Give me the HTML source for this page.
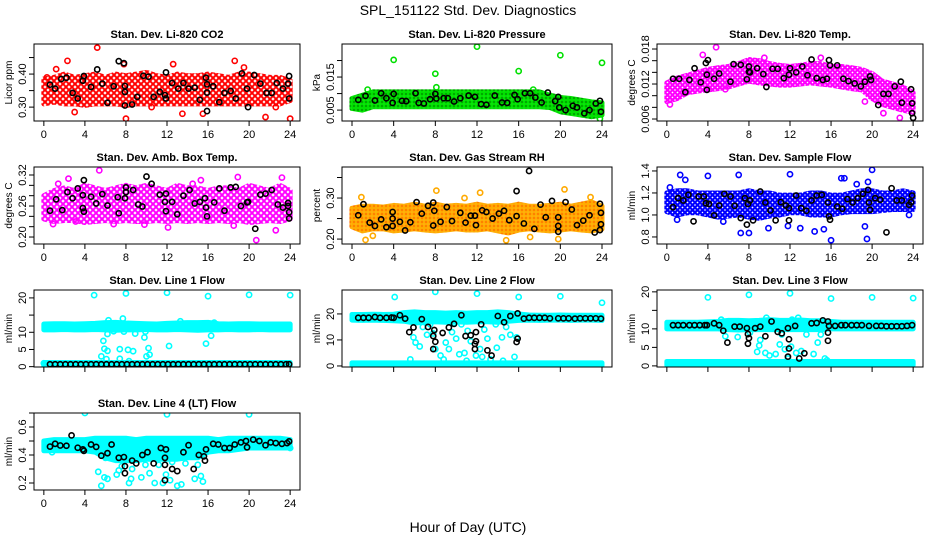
<!DOCTYPE html>
<html><head><meta charset="utf-8">
<style>
html,body{margin:0;padding:0;background:#fff;}
svg{display:block;font-family:"Liberation Sans",sans-serif;}
</style></head>
<body>
<svg id="chart" width="936" height="540" viewBox="0 0 936 540" xmlns="http://www.w3.org/2000/svg">
<defs id="defs"></defs>
<rect width="936" height="540" fill="#fff"/>
<text x="468" y="15" font-size="14" text-anchor="middle">SPL_151122  Std. Dev. Diagnostics</text>
<text x="468" y="532" font-size="14" text-anchor="middle">Hour of Day (UTC)</text>
</svg>
<script>
const bandHours=[0,1,2,3,4,5,6,7,8,9,10,11,12,13,14,15,16,17,18,19,20,21,22,23,24];
const xTicks=[0,4,8,12,16,20,24];

const co2BandLo=[0.31,0.315,0.31,0.31,0.305,0.31,0.31,0.31,0.305,0.31,0.31,0.31,0.31,0.31,0.31,0.31,0.31,0.31,0.31,0.31,0.31,0.31,0.31,0.31,0.32];
const co2BandHi=[0.385,0.39,0.4,0.39,0.395,0.4,0.39,0.4,0.395,0.4,0.405,0.395,0.39,0.4,0.395,0.395,0.4,0.395,0.39,0.4,0.4,0.395,0.39,0.39,0.38];
const co2OutX=[5.2,2.3,18.6,8,21.6,24,13.5,3,15.5,7.8,12.6,0.3,1.2,10.5,19.5,22.6];
const co2OutY=[0.48,0.44,0.44,0.265,0.27,0.265,0.28,0.285,0.28,0.43,0.43,0.39,0.415,0.3,0.42,0.3];
const co2BlackX=[0.6,1.1,1.7,2.2,2.8,3.3,3.9,3.8,4.6,5.2,5.7,6.2,6.8,7.3,7.8,7.9,7.9,7.9,8.6,9.1,9.7,10.2,10.7,11.3,11.8,11.9,11.9,12.5,13.1,13.6,14.1,14.7,15.2,15.8,15.9,15.9,15.9,16.5,17.1,17.6,18.2,18.7,19.3,19.8,19.9,20.5,21.1,21.7,22.2,22.7,23.3,23.8,23.9,23.9];
const co2BlackY=[0.368,0.356,0.385,0.389,0.343,0.326,0.394,0.38,0.361,0.414,0.371,0.313,0.363,0.439,0.433,0.364,0.346,0.305,0.308,0.331,0.395,0.392,0.331,0.346,0.336,0.326,0.405,0.373,0.356,0.373,0.356,0.359,0.322,0.389,0.369,0.344,0.288,0.363,0.315,0.343,0.349,0.326,0.402,0.356,0.30,0.397,0.371,0.343,0.343,0.373,0.356,0.371,0.394,0.326];

const presBandLo=[0.0055,0.005,0.006,0.006,0.006,0.006,0.006,0.006,0.006,0.006,0.006,0.006,0.006,0.006,0.006,0.006,0.006,0.006,0.006,0.0058,0.0045,0.004,0.0035,0.003,0.0035];
const presBandHi=[0.0085,0.0095,0.0105,0.0105,0.0105,0.0105,0.0105,0.0105,0.0105,0.0105,0.0105,0.0105,0.0105,0.0105,0.0105,0.0105,0.0105,0.0105,0.0105,0.0095,0.0088,0.0085,0.008,0.0075,0.0072];
const presOutX=[4,8,8.1,12,16,20,24,23.8,1.5,17.4];
const presOutY=[0.0202,0.016,0.0119,0.0242,0.0168,0.0216,0.0193,0.0024,0.0112,0.0112];
const presBlackX=[0.6,1.3,2.2,2.8,3.3,3.9,4.0,4.8,5.2,6.1,6.4,6.9,7.5,8.0,8.1,8.8,9.2,9.8,10.4,11.2,11.8,12.4,12.9,13.7,14.4,14.9,15.6,15.9,16.6,17.1,17.6,18.2,18.8,19.5,19.8,19.9,20.5,21.2,21.6,22.3,22.8,23.4,23.8,23.9];
const presBlackY=[0.0081,0.0093,0.0079,0.0101,0.0086,0.0072,0.0099,0.0078,0.0077,0.0101,0.0072,0.007,0.0083,0.0099,0.0085,0.0086,0.0086,0.0076,0.0086,0.0094,0.009,0.0068,0.0066,0.0094,0.0073,0.0072,0.0096,0.0083,0.0101,0.0101,0.0088,0.0073,0.0103,0.0077,0.009,0.0058,0.005,0.0063,0.0058,0.004,0.005,0.007,0.0078,0.0045];

const tempBandLo=[0.009,0.0095,0.0105,0.0108,0.011,0.0112,0.0115,0.012,0.0125,0.0122,0.012,0.0118,0.0118,0.012,0.0122,0.012,0.0118,0.0115,0.0112,0.011,0.0095,0.0085,0.008,0.0075,0.0072];
const tempBandHi=[0.0122,0.013,0.0135,0.014,0.0145,0.0148,0.015,0.0155,0.0162,0.016,0.0155,0.0152,0.015,0.0152,0.0155,0.0155,0.015,0.015,0.0148,0.0145,0.0138,0.0125,0.012,0.0115,0.0105];
const tempOutX=[4.8,5.7,19.3,21.1,22.7,3.5,0.3,9.5,15];
const tempOutY=[0.0183,0.0111,0.009,0.007,0.0062,0.017,0.0085,0.0165,0.0165];
const tempBlackX=[0.6,1.2,1.8,2.2,2.7,3.3,3.8,3.9,3.9,4.0,4.6,5.1,6.2,6.5,7.2,7.8,8,8,8.1,8.8,9.4,9.7,10.3,10.8,11.4,11.9,12,12.6,13.2,13.7,14.1,14.6,15.2,15.6,15.8,15.9,16.6,17.2,17.7,18.3,18.9,19.3,19.8,19.9,20.6,21.1,21.6,22.2,22.8,22.9,23.8,23.9,23.9,24];
const tempBlackY=[0.0129,0.0129,0.0106,0.0127,0.0147,0.0123,0.0156,0.011,0.0136,0.0161,0.0129,0.0138,0.0124,0.0154,0.0153,0.0128,0.015,0.0141,0.014,0.0147,0.0137,0.0115,0.0146,0.0146,0.013,0.0136,0.0147,0.014,0.015,0.0135,0.0162,0.013,0.0127,0.0129,0.0161,0.0152,0.0152,0.0129,0.0125,0.0121,0.0116,0.0124,0.0133,0.0127,0.0084,0.0103,0.0103,0.0116,0.0124,0.0088,0.0111,0.0087,0.007,0.0062];

const boxBandLo=[0.235,0.23,0.232,0.232,0.228,0.23,0.232,0.23,0.232,0.23,0.23,0.232,0.23,0.232,0.23,0.232,0.23,0.232,0.23,0.232,0.228,0.23,0.232,0.23,0.235];
const boxBandHi=[0.28,0.29,0.295,0.29,0.3,0.295,0.29,0.295,0.3,0.295,0.3,0.295,0.29,0.3,0.295,0.295,0.29,0.295,0.295,0.29,0.3,0.295,0.29,0.3,0.29];
const boxOutX=[5.4,12.1,18.9,20.7,9.8,23.2,1.4,2.4,22.6,3.1,14.5,15.3,0.9,6.8,18.5];
const boxOutY=[0.329,0.2185,0.316,0.194,0.224,0.315,0.303,0.313,0.213,0.23,0.303,0.31,0.225,0.225,0.222];
const boxBlackX=[0.6,1.2,1.8,2.3,2.8,3.3,3.8,3.9,3.9,3.8,4.6,5.1,5.7,6.2,7.2,7.3,7.9,8,8,8.7,9.2,9.6,10.0,10.5,11.3,11.8,11.9,11.9,12.5,13.0,13.6,14.2,14.7,15.2,15.7,15.8,15.9,16.6,17.1,17.6,18.2,18.7,19.2,19.8,19.9,20.6,21.1,21.6,22.2,22.8,23.3,23.8,23.9,23.9,23.8];
const boxBlackY=[0.251,0.273,0.252,0.287,0.275,0.294,0.256,0.31,0.249,0.281,0.278,0.265,0.283,0.261,0.277,0.246,0.275,0.287,0.296,0.291,0.263,0.259,0.317,0.303,0.282,0.268,0.284,0.25,0.268,0.244,0.28,0.291,0.265,0.268,0.275,0.257,0.24,0.267,0.294,0.251,0.296,0.297,0.26,0.267,0.268,0.216,0.282,0.284,0.291,0.263,0.257,0.266,0.236,0.248,0.26];

const rhBandLo=[0.23,0.22,0.225,0.225,0.22,0.222,0.225,0.222,0.22,0.222,0.225,0.222,0.222,0.225,0.22,0.215,0.222,0.225,0.222,0.22,0.222,0.225,0.222,0.22,0.225];
const rhBandHi=[0.275,0.28,0.28,0.278,0.282,0.28,0.285,0.28,0.285,0.28,0.282,0.28,0.285,0.28,0.282,0.28,0.285,0.28,0.28,0.282,0.285,0.28,0.285,0.29,0.28];
const rhOutX=[8.1,12.3,20.4,0.9,1.3,14.8,2,17.1,22.9,10.8,19.8];
const rhOutY=[0.318,0.313,0.321,0.302,0.198,0.197,0.208,0.205,0.302,0.3,0.2];
const rhBlackX=[0.6,1.1,1.7,2.2,2.8,3.3,3.9,3.9,3.9,4.6,5.1,5.6,6.2,6.7,7.3,7.8,7.9,7.8,8.5,9.1,9.6,10.4,10.9,11.4,11.8,11.9,12.5,12.9,13.5,14.1,14.6,15.1,15.8,15.8,16.5,17.0,17.5,18.1,18.6,19.2,19.8,19.8,19.8,20.5,21.1,21.6,22.2,22.8,23.3,23.8,23.8,23.9,23.9];
const rhBlackY=[0.258,0.285,0.24,0.232,0.248,0.229,0.266,0.25,0.232,0.242,0.221,0.241,0.29,0.262,0.281,0.289,0.269,0.233,0.242,0.278,0.244,0.264,0.24,0.257,0.257,0.234,0.27,0.266,0.25,0.262,0.269,0.246,0.317,0.256,0.238,0.366,0.225,0.284,0.253,0.293,0.253,0.232,0.218,0.29,0.272,0.234,0.245,0.258,0.216,0.222,0.286,0.264,0.236];

const flowBandLo=[1.03,1.0,1.02,1.02,1.0,0.98,0.99,1.0,0.98,0.97,0.99,1.0,1.02,1.02,1.0,1.0,1.0,1.02,1.03,1.03,1.03,1.04,1.05,1.05,1.05];
const flowBandHi=[1.2,1.22,1.22,1.2,1.2,1.2,1.2,1.2,1.22,1.2,1.2,1.18,1.18,1.18,1.2,1.2,1.18,1.18,1.2,1.22,1.22,1.2,1.2,1.22,1.2];
const flowOutX=[1.3,1.8,4,7,12,16,19.5,20,19.6,19.3,7.2,8,9.9,13,14.4,15.3,1,17,17.3,18.5,0.3,5.5,11.8,23.6];
const flowOutY=[1.364,1.319,1.355,1.364,1.37,0.77,0.782,1.41,1.3,0.896,0.836,0.836,0.88,0.88,0.85,0.87,0.957,1.334,1.334,1.28,1.25,0.94,0.9,1.0];
const flowBlackX=[0.6,1.1,1.6,2.1,2.6,3.1,3.6,3.8,4.1,4.6,5.1,5.6,6.2,6.6,7.2,7.6,7.8,7.9,8.1,8.4,9.1,9.6,10.1,10.6,11.1,11.6,11.9,11.9,12.6,13.1,13.6,14.1,14.6,15.1,15.7,15.8,15.9,16.6,17.1,17.6,18.1,18.6,19.1,19.6,19.7,19.8,20.3,20.8,21.4,21.9,22.4,22.9,23.6,23.9,23.8];
const flowBlackY=[1.071,1.153,1.132,1.183,0.942,1.168,1.168,1.107,1.1,0.996,1.086,1.192,1.168,1.083,0.972,1.153,0.912,1.1,1.132,0.951,1.213,1.113,1.041,0.951,1.116,1.086,1.062,0.951,1.177,1.062,1.038,1.132,1.177,1.183,1.113,0.987,0.957,1.077,1.056,1.144,1.113,1.153,1.192,1.228,1.113,1.047,1.153,1.138,0.842,1.243,1.132,1.132,1.092,1.177,1.116];

const lowBandLo=[0.2,0.2,0.2,0.2,0.2,0.2,0.2,0.2,0.2,0.2,0.2,0.2,0.2,0.2,0.2,0.2,0.2,0.2,0.2,0.2,0.2,0.2,0.2,0.2,0.2];
const lowBandHi=[1.2,1.2,1.2,1.2,1.2,1.2,1.2,1.2,1.2,1.2,1.2,1.2,1.2,1.2,1.2,1.2,1.2,1.2,1.2,1.2,1.2,1.2,1.2,1.2,1.2];

const line1BandLo=[10.7,10.7,10.8,10.7,10.7,10.8,10.7,10.6,10.7,10.7,10.8,10.7,10.7,10.8,10.7,10.6,10.7,10.7,10.8,10.7,10.7,10.8,10.7,10.7,10.7];
const line1BandHi=[12.4,12.5,12.5,12.4,12.5,12.6,12.8,12.9,12.7,12.6,12.5,12.4,12.6,12.7,12.8,12.8,12.9,12.5,12.4,12.5,12.5,12.4,12.4,12.4,12.4];
const line1OutX=[4.9,8.0,12.0,16.0,20.0,24.0,5.8,5.9,6.2,5.6,6.1,7.4,7.4,8.2,8.7,8.3,10.0,10.2,10.3,9.8,12.2,15.8,16.3,6.2,6.8,7.8,8.9,9.9,7.7,6.3,16.6,13.3,0];
const line1OutY=[20.8,21.3,21.5,20.5,20.9,20.8,7.5,5.2,4.6,3,2.2,2.3,5.1,4.9,4.5,1.6,3,5.4,3.5,8.5,6,6.7,9,9.5,10.3,10.2,9.6,10.2,14.0,13.5,12.8,13.2,1];
const line1BlackX=[0.6,1.1,1.6,2.1,2.6,3.1,3.6,4.1,4.6,5.1,5.6,6.1,6.6,7.1,7.6,8.1,8.6,9.1,9.6,10.1,10.6,11.1,11.6,12.1,12.6,13.1,13.6,14.1,14.6,15.1,15.6,16.1,16.6,17.1,17.6,18.1,18.6,19.1,19.6,20.1,20.6,21.1,21.6,22.1,22.6,23.1,23.6,23.9];
const line1BlackY=[0.7,0.7,0.7,0.7,0.7,0.7,0.7,0.7,0.7,0.7,0.7,0.7,0.7,0.7,0.7,0.7,0.7,0.7,0.7,0.7,0.7,0.7,0.7,0.7,0.7,0.7,0.7,0.7,0.7,0.7,0.7,0.7,0.7,0.7,0.7,0.7,0.7,0.7,0.7,0.7,0.7,0.7,0.7,0.7,0.7,0.7,0.7,0.7];

const line2BandLo=[17.6,17.5,17.6,17.5,17.4,17.2,16.5,16.8,17,16.8,17,16.8,17,17,16.8,17.2,17.5,17.6,17.5,17.6,17.6,17.5,17.6,17.6,17.5];
const line2BandHi=[19.8,19.8,19.9,19.8,19.9,20.5,20.8,20.5,20.5,20.3,20.5,20.3,20.5,20.5,20.8,20.5,20,19.6,19.5,19.5,19.6,19.5,19.5,19.5,19.5];
const line2OutX=[4.1,8.0,12.0,16.0,20.0,24,5.6,5.9,6.1,6.5,7.2,7.8,8.0,8.5,9,9.3,9.6,10,10.3,10.8,11.1,11.4,11.9,12.3,12.7,13,13.3,13.9,14.4,14.8,15.2,15.6,15.8,7.5,10.5,13.8,6.8,9.8,12.5,8.8,11,14.5];
const line2OutY=[26.5,28.5,27.8,26.5,26.8,24.3,2.5,11,9,7.5,12,12.5,6.5,4,9,6.5,13,10.5,4.5,5,13.5,9.5,4,6.5,14,10.5,2.5,7,11,15,12,3.5,11,16,16,16,15,16.5,3.5,2.5,2,2];
const line2BlackX=[0.6,1.1,1.6,2.2,2.7,3.3,3.8,4,4.6,5.1,5.5,5.9,6.7,7.3,7.8,7.9,8.0,7.8,8.7,9.3,9.8,10.5,10.9,11.4,11.9,11.9,11.8,11.8,12.4,13.0,13.4,14,14.6,15.2,15.8,15.9,15.9,16.5,17,17.5,18,18.5,19,19.8,20.3,20.8,21.4,21.9,22.4,22.9,23.4,23.9];
const line2BlackY=[18.5,18.5,18.5,18.8,18.5,18.5,18.6,18.5,19.5,18.2,13,14.8,18,15,11.5,13.8,9.3,6.5,12.7,14.8,16.2,19.5,11.5,11.8,13,9.5,8.5,6.5,16,6,4,19.2,16.8,19.2,9.2,10.5,20.2,18.2,18.5,18.5,18.5,18.5,18.3,18.3,18.3,18.3,18.2,18.3,18.3,18.3,18.3,18.2];

const line3BandLo=[10,10,10,10,10,10,9.8,9.7,9.8,9.8,9.8,9.8,9.8,9.8,9.8,9.8,10,10,10,10,10,10,10,10,10];
const line3BandHi=[11.8,11.8,11.8,11.8,11.9,12,12.3,12.3,12.2,12.3,12.5,12.3,12.3,12.4,12.2,12.2,12,11.8,11.8,11.8,11.8,11.8,11.8,11.8,11.8];
const line3OutX=[4,8,12,16,20,24,5.5,5.7,6.9,7.6,8.1,8.8,9.0,9.1,9.6,10,10.6,11,11.2,11.5,11.8,12.1,12.6,12.8,13.1,13.6,14.3,14.7,15,15.4,5.3,9.7,12.2,15.6];
const line3OutY=[18.5,19.2,19.6,18.2,18.5,18.3,10.5,8,7.8,11,9,3.8,5.5,7,3.5,2.8,3.2,5.8,8.5,4.5,2,5.2,3.5,13,4,8.5,3.2,6.3,8.5,2,12.5,13,12.5,1.5];
const line3BlackX=[0.6,1.1,1.6,2.2,2.7,3.2,3.7,3.9,4.6,5.1,5.5,5.9,6.6,7.1,7.8,7.9,8.0,7.9,8.6,9.1,9.6,10.2,10.8,11.2,11.9,11.9,11.8,11.8,12.5,12.9,13.4,14.1,14.6,15.2,15.7,15.7,15.7,15.8,16.4,17,17.4,18,18.5,19,19.7,20.4,20.9,21.4,21.9,22.4,22.9,23.4,23.9];
const line3BlackY=[11,11,11,11,11,11,11,11,11.5,11,9.5,6.3,10.6,10.6,10.2,8.6,7.5,6,10.2,10.6,8,12,9.2,8.8,7.2,4.7,2.5,10.2,10.8,2,3.4,11.5,11.6,12.3,12,9,6.8,10.8,10.8,11,11,11,11,11,10.8,10.8,10.8,10.7,10.7,10.7,10.7,10.8,11];

const line4BandLo=[0.43,0.43,0.43,0.43,0.43,0.42,0.38,0.36,0.36,0.36,0.37,0.37,0.37,0.37,0.38,0.38,0.42,0.43,0.43,0.44,0.45,0.45,0.45,0.45,0.45];
const line4BandHi=[0.5,0.51,0.51,0.51,0.51,0.52,0.52,0.52,0.52,0.51,0.52,0.52,0.52,0.52,0.52,0.52,0.52,0.51,0.52,0.52,0.52,0.52,0.52,0.52,0.51];
const line4OutX=[4,12,20,24,5.6,5.3,5.9,6.2,7.1,7.3,7.6,8.3,8.5,8.6,9.5,10.3,10.8,11.6,11.9,12.3,13.0,13.4,13.8,14.7,15.3,15.5,11.2,9.9,6.0,7.0,15.0,12.5,0.8];
const line4OutY=[0.7,0.69,0.69,0.45,0.18,0.28,0.24,0.23,0.26,0.29,0.32,0.2,0.23,0.3,0.24,0.27,0.2,0.2,0.26,0.22,0.18,0.19,0.34,0.23,0.25,0.21,0.33,0.33,0.38,0.39,0.33,0.35,0.42];
const line4BlackX=[0.6,1.1,1.6,2.2,2.7,3.3,3.8,3.9,4.6,5.1,5.6,6.2,6.6,7.3,7.8,7.9,7.9,8.6,9.0,9.6,10.1,10.7,11.4,11.8,11.8,11.8,11.9,12.5,13,13.6,14.1,14.6,15.1,15.6,15.7,15.8,16.5,17.0,17.6,18.1,18.6,19.2,19.7,19.8,20.4,21.0,21.6,22.1,22.6,23.2,23.7,23.9];
const line4BlackY=[0.46,0.48,0.468,0.466,0.54,0.452,0.44,0.43,0.475,0.458,0.395,0.413,0.475,0.38,0.385,0.32,0.27,0.36,0.34,0.4,0.42,0.34,0.45,0.38,0.33,0.22,0.44,0.3,0.285,0.42,0.47,0.3,0.4,0.39,0.36,0.44,0.48,0.475,0.45,0.45,0.475,0.49,0.5,0.455,0.51,0.5,0.47,0.49,0.485,0.48,0.485,0.497];

const svg=document.getElementById('chart');
const defs=document.getElementById('defs');
const NS='http://www.w3.org/2000/svg';
function mk(tag,attrs,parent){const e=document.createElementNS(NS,tag);for(const k in attrs)e.setAttribute(k,attrs[k]);(parent||svg).appendChild(e);return e;}

// texture patterns (styling only)
function pattern(id,color,dot,size,r,sw){
  const p=mk('pattern',{id:id,patternUnits:'userSpaceOnUse',width:size,height:size},defs);
  mk('circle',{cx:size/2,cy:size/2,r:r,fill:'none',stroke:color,'stroke-width':sw},p);
  mk('circle',{cx:0,cy:0,r:r,fill:'none',stroke:color,'stroke-width':sw},p);
  mk('circle',{cx:size,cy:0,r:r,fill:'none',stroke:color,'stroke-width':sw},p);
  mk('circle',{cx:0,cy:size,r:r,fill:'none',stroke:color,'stroke-width':sw},p);
  mk('circle',{cx:size,cy:size,r:r,fill:'none',stroke:color,'stroke-width':sw},p);
  if(dot) mk('rect',{x:size/2-0.5,y:size/2-0.5,width:1,height:1,fill:dot},p);
  return 'url(#'+id+')';
}

const colL=[34,342,657], colW=[266,270,266], rowT=[44,167,290,413], PH=77;

const panels=[
 {name:'co2',title:'Stan. Dev. Li-820 CO2',ylab:'Licor ppm',col:0,row:0,ymin:0.258,ymax:0.491,yt:[0.30,0.35,0.40,0.45],yl:['0.30','','0.40',''],color:'#ff0000',tex:[null,6,2.4,1.5],lo:co2BandLo,hi:co2BandHi,ox:co2OutX,oy:co2OutY,bx:co2BlackX,by:co2BlackY,xl:true},
 {name:'pressure',title:'Stan. Dev. Li-820 Pressure',ylab:'kPa',col:1,row:0,ymin:0.0017,ymax:0.025,yt:[0.005,0.010,0.015,0.020],yl:['0.005','','0.015',''],color:'#00e000',tex:['#000',4,1.8,1.6],lo:presBandLo,hi:presBandHi,ox:presOutX,oy:presOutY,bx:presBlackX,by:presBlackY,xl:true},
 {name:'temp',title:'Stan. Dev. Li-820 Temp.',ylab:'degrees C',col:2,row:0,ymin:0.00566,ymax:0.01886,yt:[0.006,0.008,0.010,0.012,0.014,0.016,0.018],yl:['0.006','','','0.012','','','0.018'],color:'#ff00ff',tex:[null,5,2.1,1.6],lo:tempBandLo,hi:tempBandHi,ox:tempOutX,oy:tempOutY,bx:tempBlackX,by:tempBlackY,xl:true},
 {name:'box-temp',title:'Stan. Dev. Amb. Box Temp.',ylab:'degrees C',col:0,row:1,ymin:0.1865,ymax:0.3355,yt:[0.20,0.22,0.24,0.26,0.28,0.30,0.32],yl:['0.20','','','0.26','','','0.32'],color:'#ff00ff',tex:[null,6,2.4,1.5],lo:boxBandLo,hi:boxBandHi,ox:boxOutX,oy:boxOutY,bx:boxBlackX,by:boxBlackY,xl:true},
 {name:'rh',title:'Stan. Dev. Gas Stream RH',ylab:'percent',col:1,row:1,ymin:0.188,ymax:0.3756,yt:[0.20,0.25,0.30,0.35],yl:['0.20','','0.30',''],color:'#ffaa00',tex:['#ff0000',4,1.8,1.6],lo:rhBandLo,hi:rhBandHi,ox:rhOutX,oy:rhOutY,bx:rhBlackX,by:rhBlackY,xl:true},
 {name:'sample-flow',title:'Stan. Dev. Sample Flow',ylab:'ml/min',col:2,row:1,ymin:0.736,ymax:1.436,yt:[0.8,1.0,1.2,1.4],yl:['0.8','1.0','1.2','1.4'],color:'#0000ff',tex:[null,5,2.1,1.6],lo:flowBandLo,hi:flowBandHi,ox:flowOutX,oy:flowOutY,bx:flowBlackX,by:flowBlackY,xl:true},
 {name:'line1',title:'Stan. Dev. Line 1 Flow',ylab:'ml/min',col:0,row:2,ymin:-0.1,ymax:22.3,yt:[0,5,10,15,20],yl:['0','5','10','','20'],color:'#00ffff',tex:null,lo:line1BandLo,hi:line1BandHi,low:true,ox:line1OutX,oy:line1OutY,bx:line1BlackX,by:line1BlackY,xl:false},
 {name:'line2',title:'Stan. Dev. Line 2 Flow',ylab:'ml/min',col:1,row:2,ymin:-0.4,ymax:29.2,yt:[0,10,20],yl:['0','10','20'],color:'#00ffff',tex:null,lo:line2BandLo,hi:line2BandHi,low:true,ox:line2OutX,oy:line2OutY,bx:line2BlackX,by:line2BlackY,xl:false},
 {name:'line3',title:'Stan. Dev. Line 3 Flow',ylab:'ml/min',col:2,row:2,ymin:-0.3,ymax:20.5,yt:[0,5,10,15,20],yl:['0','5','10','','20'],color:'#00ffff',tex:null,lo:line3BandLo,hi:line3BandHi,low:true,ox:line3OutX,oy:line3OutY,bx:line3BlackX,by:line3BlackY,xl:false},
 {name:'line4',title:'Stan. Dev. Line 4 (LT) Flow',ylab:'ml/min',col:0,row:3,ymin:0.15,ymax:0.7,yt:[0.2,0.3,0.4,0.5,0.6,0.7],yl:['0.2','','0.4','','0.6',''],color:'#00ffff',tex:null,lo:line4BandLo,hi:line4BandHi,ox:line4OutX,oy:line4OutY,bx:line4BlackX,by:line4BlackY,xl:true}
];

panels.forEach(p=>{
  const L=colL[p.col],W=colW[p.col],T=rowT[p.row],B=T+PH;
  const xs=h=>L+(h+0.96)/25.92*W;
  const ys=v=>B-(v-p.ymin)/(p.ymax-p.ymin)*PH;
  const fill=p.tex?pattern('pat-'+p.name,p.color,p.tex[0],p.tex[1],p.tex[2],p.tex[3]):p.color;
  const g=mk('g',{});
  
  
  const cid='clip-'+p.name;
  const cp=mk('clipPath',{id:cid},g);mk('rect',{x:L,y:T,width:W,height:PH},cp);
  const plot=mk('g',{'clip-path':'url(#'+cid+')'},g);
  function band(lo,hi,nm,f){
    let pts=bandHours.map((h,i)=>xs(h)+','+ys(hi[i]));
    pts=pts.concat(bandHours.slice().reverse().map((h,j)=>{const i=bandHours.length-1-j;return xs(h)+','+ys(lo[i]);}));
    const poly=mk('polygon',{points:pts.join(' '),fill:f,stroke:f,'stroke-width':5,'stroke-linejoin':'round'},plot);
    
    
  }
  band(p.lo,p.hi,p.name+'-band',fill);
  if(p.low) band(lowBandLo,lowBandHi,p.name+'-zero-band',p.color);
  p.ox.forEach((x,i)=>{
    const c=mk('circle',{cx:xs(x),cy:ys(p.oy[i]),r:2.6,fill:'none',stroke:p.color,'stroke-width':1.6},plot);
    
    
  });
  p.bx.forEach((x,i)=>{
    const c=mk('circle',{cx:xs(x),cy:ys(p.by[i]),r:2.6,fill:'none',stroke:'#000','stroke-width':1.6},plot);
    
    
  });
  const frame=mk('rect',{x:L,y:T,width:W,height:PH,fill:'none',stroke:'#000','stroke-width':1},g);
  
  
  const t=mk('text',{x:L+W/2,y:T-6,'font-size':11,'font-weight':'bold','text-anchor':'middle'},g);
  t.textContent=p.title;
  
  
  xTicks.forEach(h=>{
    mk('line',{x1:xs(h),x2:xs(h),y1:B,y2:B+5,stroke:'#000'},g);
    if(p.xl){
      const tl=mk('text',{x:xs(h),y:B+17,'font-size':11,'text-anchor':'middle'},g);
      tl.textContent=h;
      
      
    }
  });
  p.yt.forEach((v,i)=>{
    const y=ys(v);
    mk('line',{x1:L-5,x2:L,y1:y,y2:y,stroke:'#000'},g);
    if(p.yl[i]){
      const tl=mk('text',{x:0,y:0,'font-size':11,'text-anchor':'middle',transform:'translate('+(L-8)+','+y+') rotate(-90)'},g);
      tl.textContent=p.yl[i];
      
      
    }
  });
  const yl=mk('text',{x:0,y:0,'font-size':10,'text-anchor':'middle',transform:'translate('+(L-22)+','+(T+PH/2)+') rotate(-90)'},g);
  yl.textContent=p.ylab;
  
  
});
</script>
</body></html>
